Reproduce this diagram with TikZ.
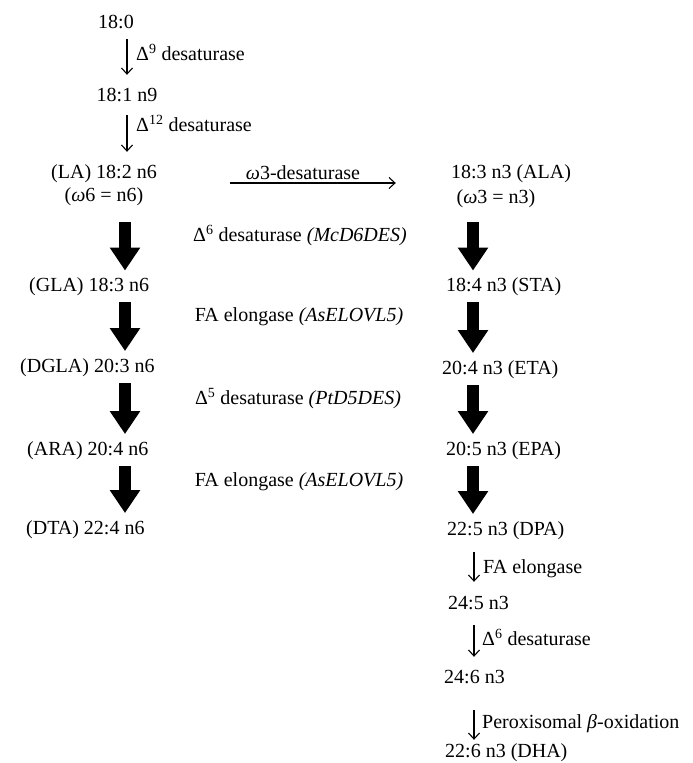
\documentclass[tikz,border=0pt]{standalone}
\usepackage{fontspec}
\setmainfont{Liberation Serif}
\usetikzlibrary{arrows.meta}
\tikzset{
  lbl/.style={inner sep=0pt, font=\fontsize{20}{23}\selectfont, text height=14pt, text depth=4.5pt},
  fat/.style={line width=12.5pt, -{Triangle[width=29pt,length=23pt]}},
  thinarr/.style={line width=1.1pt, -{Straight Barb[length=6pt,width=11pt,line width=1.1pt]}}
}
\begin{document}
\begin{tikzpicture}[x=1pt,y=-1pt]
\useasboundingbox (0,0) rectangle (693,763);
% column guide coordinates
\coordinate (xl) at (125,0);
\coordinate (xr) at (473,0);
\coordinate (xtl) at (127,0);
\coordinate (xtr) at (474,0);
\coordinate (w3y) at (0,183);
% top chain
\node[lbl] (n0) at (116,24) {18:0};
\node[lbl] (n1) at (127,97) {18:1 n9};
\node[lbl] (la) at (104,174) {(LA) 18:2 n6};
\node[lbl] (la2) at (104,197) {({\itshape ω}6 = n6)};
\node[lbl] (ala) at (511,174) {18:3 n3 (ALA)};
\node[lbl] (ala2) at (496,199) {({\itshape ω}3 = n3)};
% left column
\node[lbl, anchor=west] (gla) at (29,287) {(GLA) 18:3 n6};
\node[lbl, anchor=west] (dgla) at (20,368) {(DGLA) 20:3 n6};
\node[lbl, anchor=west] (ara) at (27,451) {(ARA) 20:4 n6};
\node[lbl, anchor=west] (dta) at (26,530) {(DTA) 22:4 n6};
% right column
\node[lbl, anchor=west] (sta) at (446,287) {18:4 n3 (STA)};
\node[lbl, anchor=west] (eta) at (442,370) {20:4 n3 (ETA)};
\node[lbl, anchor=west] (epa) at (446,451) {20:5 n3 (EPA)};
\node[lbl, anchor=west] (dpa) at (447,531) {22:5 n3 (DPA)};
\node[lbl, anchor=west] (n245) at (448,605) {24:5 n3};
\node[lbl, anchor=west] (n246) at (444,679) {24:6 n3};
\node[lbl, anchor=west] (dha) at (445,753) {22:6 n3 (DHA)};
% enzyme labels
\node[lbl, anchor=west] (d9) at (136,56) {Δ\textsuperscript{9} desaturase};
\node[lbl, anchor=west] (d12) at (136,127) {Δ\textsuperscript{12} desaturase};
\node[lbl] (w3) at (303,175) {{\itshape ω}3-desaturase};
\node[lbl] (m1) at (300,237) {Δ\textsuperscript{6} desaturase \textit{(McD6DES)}};
\node[lbl] (m2) at (299,317) {FA elongase \textit{(AsELOVL5)}};
\node[lbl] (m3) at (298,400) {Δ\textsuperscript{5} desaturase \textit{(PtD5DES)}};
\node[lbl] (m4) at (299,482) {FA elongase \textit{(AsELOVL5)}};
\node[lbl, anchor=west] (r1) at (483,569) {FA elongase};
\node[lbl, anchor=west] (r2) at (482,641) {Δ\textsuperscript{6} desaturase};
\node[lbl, anchor=west] (r3) at (482,724) {Peroxisomal {\itshape β}-oxidation};
% thin arrows
\draw[thinarr, shorten <=5.75pt, shorten >=12.75pt] (n0.south -| xtl) -- (n1.north -| xtl);
\draw[thinarr, shorten <=8.75pt, shorten >=12.75pt] (n1.south -| xtl) -- (la.north -| xtl);
\draw[thinarr, shorten <=73pt, shorten >=55pt] (la.east |- w3y) -- (ala.west |- w3y);
\draw[thinarr, shorten <=11.75pt, shorten >=13.75pt] (dpa.south -| xtr) -- (n245.north -| xtr);
\draw[thinarr, shorten <=10.75pt, shorten >=12.75pt] (n245.south -| xtr) -- (n246.north -| xtr);
\draw[thinarr, shorten <=21.75pt, shorten >=3.75pt] (n246.south -| xtr) -- (dha.north -| xtr);
% thick arrows left
\draw[fat, shorten <=16pt, shorten >=7pt] (la2.south -| xl) -- (gla.north -| xl);
\draw[fat, shorten <=6pt, shorten >=7.5pt] (gla.south -| xl) -- (dgla.north -| xl);
\draw[fat, shorten <=6pt, shorten >=7.5pt] (dgla.south -| xl) -- (ara.north -| xl);
\draw[fat, shorten <=6pt, shorten >=7.5pt] (ara.south -| xl) -- (dta.north -| xl);
% thick arrows right
\draw[fat, shorten <=14pt, shorten >=7pt] (ala2.south -| xr) -- (sta.north -| xr);
\draw[fat, shorten <=6pt, shorten >=7.5pt] (sta.south -| xr) -- (eta.north -| xr);
\draw[fat, shorten <=6pt, shorten >=7.5pt] (eta.south -| xr) -- (epa.north -| xr);
\draw[fat, shorten <=6pt, shorten >=7.5pt] (epa.south -| xr) -- (dpa.north -| xr);
\end{tikzpicture}
\end{document}
